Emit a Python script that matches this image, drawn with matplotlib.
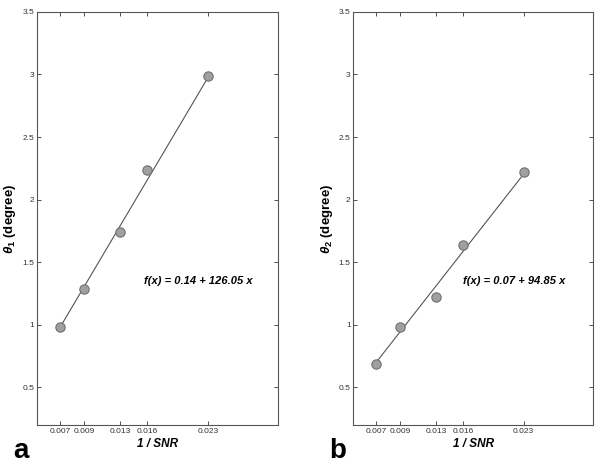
import numpy as np
import matplotlib
matplotlib.use('Agg')
import matplotlib.pyplot as plt

plt.rcParams['font.family'] = ['Liberation Sans', 'DejaVu Sans']
plt.rcParams['mathtext.fontset'] = 'custom'
plt.rcParams['mathtext.it'] = 'Liberation Sans:italic:bold'
plt.rcParams['mathtext.rm'] = 'Liberation Sans:bold'

# 1/SNR positions (ticks sit on the data points)
x_vals = [0.00665, 0.00926, 0.01307, 0.0160, 0.0225]
x_labels = ['0.007', '0.009', '0.013', '0.016', '0.023']

theta1 = [0.98, 1.285, 1.745, 2.24, 2.99]
theta2 = [0.69, 0.98, 1.22, 1.64, 2.22]

fit1 = (0.14, 126.05)
fit2 = (0.07, 94.85)

y_ticks = [0.5, 1, 1.5, 2, 2.5, 3, 3.5]
y_labels = ['0.5', '1', '1.5', '2', '2.5', '3', '3.5']

fig = plt.figure(figsize=(6.01, 4.70), dpi=100)
ax_a = fig.add_axes([0.0616, 0.0957, 0.401, 0.879])
ax_b = fig.add_axes([0.588, 0.0957, 0.3993, 0.879])

panels = [
    (ax_a, theta1, fit1, r'$\theta_1$ (degree)', 'f(x) = 0.14 + 126.05 x', 'a'),
    (ax_b, theta2, fit2, r'$\theta_2$ (degree)', 'f(x) = 0.07 + 94.85 x', 'b'),
]

for ax, yv, fit, ylab, eq, letter in panels:
    xs = np.array([x_vals[0], x_vals[-1]])
    ax.plot(xs, fit[0] + fit[1] * xs, color='#555555', lw=0.8, zorder=2)
    ax.scatter(x_vals, yv, s=45, color='#a0a0a0', edgecolor='#707070',
               linewidth=0.8, zorder=3)
    ax.set_xlim(0.0042, 0.0300)
    ax.set_ylim(0.2, 3.5)
    ax.set_xticks(x_vals)
    ax.set_xticklabels(x_labels)
    ax.set_yticks(y_ticks)
    ax.set_yticklabels(y_labels)
    ax.tick_params(direction='in', top=True, right=True, labelsize=6,
                   length=3, width=0.6, colors='#333333', pad=2)
    for sp in ax.spines.values():
        sp.set_color('#555555')
        sp.set_linewidth(0.8)
    ax.set_xlabel('1 / SNR', fontsize=8.5, fontweight='bold', style='italic',
                  labelpad=2)
    ax.set_ylabel(ylab, fontsize=9.5, fontweight='bold', labelpad=3)
    ax.text(0.67, 0.348, eq, transform=ax.transAxes, ha='center', va='center',
            fontsize=8, fontweight='bold', style='italic')
    ax.text(-0.065, -0.062, letter, transform=ax.transAxes, ha='center',
            va='center', fontsize=20, fontweight='bold')

fig.savefig('out.png', dpi=100)
